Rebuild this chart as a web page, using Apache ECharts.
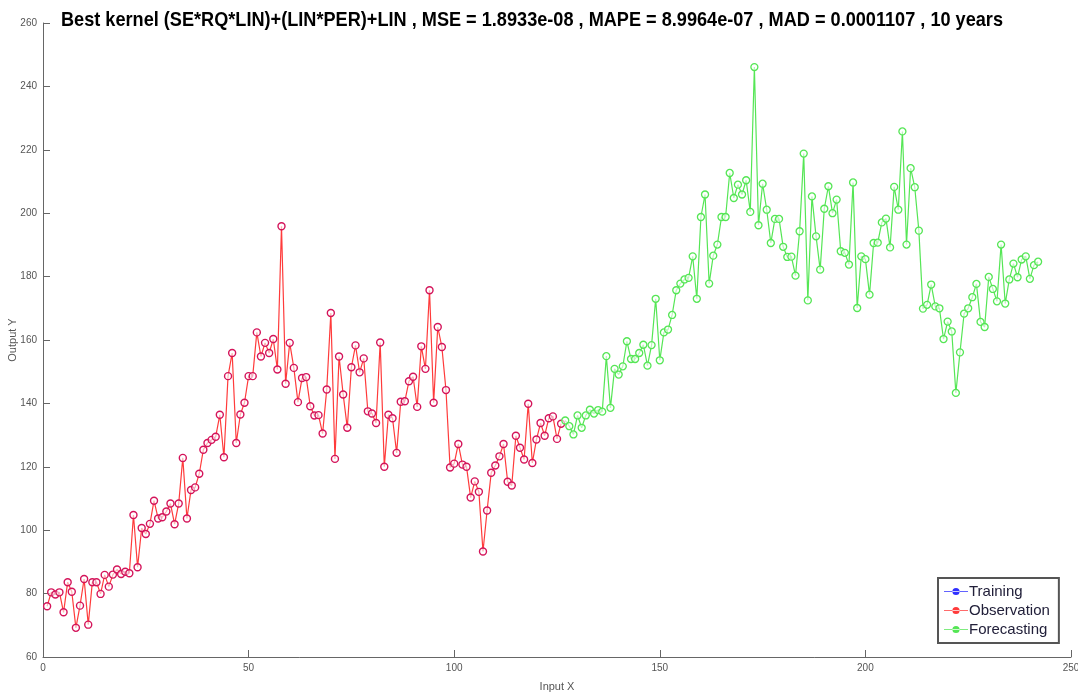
<!DOCTYPE html>
<html>
<head>
<meta charset="utf-8">
<script src="https://cdn.jsdelivr.net/npm/echarts@6/dist/echarts.min.js"></script>
<style>
  html, body { margin: 0; padding: 0; background: #fff; }
  #chart { width: 1078px; height: 693px; }
</style>
</head>
<body>
<div id="chart"></div>
<script>
// Kernel regression run: observed series and model forecast over 10 years
const titleText = 'Best kernel (SE*RQ*LIN)+(LIN*PER)+LIN , MSE = 1.8933e-08 , MAPE = 8.9964e-07 , MAD = 0.0001107 , 10 years';
const seriesNames = ['Training', 'Observation', 'Forecasting'];

const xTicks = [0, 50, 100, 150, 200, 250];
const yTicks = [60, 80, 100, 120, 140, 160, 180, 200, 220, 240, 260];

// Observation: input X = 1 .. 126
const obsStartX = 1;
const obsY = [
  76.0, 80.4, 79.7, 80.4, 74.1, 83.6, 80.6, 69.2, 76.2, 84.6,
  70.2, 83.6, 83.6, 79.9, 85.9, 82.2, 86.0, 87.6, 86.2, 86.9,
  86.4, 104.8, 88.3, 100.7, 98.8, 102.0, 109.3, 103.7, 104.1, 105.9,
  108.4, 101.9, 108.4, 122.8, 103.7, 112.7, 113.5, 117.8, 125.4, 127.5,
  128.5, 129.5, 136.4, 123.0, 148.6, 155.9, 127.5, 136.5, 140.2, 148.6,
  148.6, 162.4, 154.8, 159.1, 155.9, 160.3, 150.7, 195.9, 146.2, 159.1,
  151.2, 140.4, 148.0, 148.3, 139.1, 136.2, 136.3, 130.5, 144.4, 168.5,
  122.5, 154.8, 142.8, 132.3, 151.4, 158.3, 149.8, 154.2, 137.5, 136.8,
  133.8, 159.2, 120.0, 136.4, 135.3, 124.4, 140.5, 140.7, 147.0, 148.4,
  138.9, 158.0, 150.9, 175.7, 140.2, 164.1, 157.8, 144.2, 119.8, 121.0,
  127.2, 120.7, 120.0, 110.3, 115.4, 112.1, 93.3, 106.2, 118.1, 120.4,
  123.3, 127.2, 115.3, 114.1, 129.8, 126.0, 122.3, 139.9, 121.2, 128.6,
  133.8, 129.8, 135.3, 135.9, 128.8, 133.6
];

// Forecasting: input X = 127 .. 242
const fcStartX = 127;
const fcY = [
  134.6, 132.8, 130.2, 136.2, 132.3, 136.2, 138.0, 136.8, 137.9, 137.4,
  154.9, 138.6, 150.9, 149.1, 151.7, 159.6, 154.0, 154.0, 155.9, 158.5,
  151.9, 158.4, 173.0, 153.6, 162.4, 163.3, 167.9, 175.7, 177.8, 179.1,
  179.6, 186.4, 173.0, 198.8, 205.9, 177.8, 186.6, 190.1, 198.8, 198.8,
  212.7, 204.8, 209.0, 205.9, 210.4, 200.4, 246.1, 196.2, 209.3, 201.1,
  190.6, 198.2, 198.2, 189.4, 186.2, 186.3, 180.3, 194.3, 218.8, 172.5,
  205.3, 192.7, 182.2, 201.4, 208.5, 200.0, 204.3, 188.0, 187.5, 183.8,
  209.7, 170.1, 186.4, 185.5, 174.3, 190.6, 190.7, 197.1, 198.3, 189.2,
  208.3, 201.1, 225.8, 190.1, 214.2, 208.2, 194.5, 169.9, 171.1, 177.5,
  170.6, 170.0, 160.3, 165.8, 162.7, 143.3, 156.1, 168.3, 170.0, 173.5,
  177.7, 165.7, 164.1, 179.9, 176.1, 172.2, 190.1, 171.5, 179.1, 184.1,
  179.8, 185.4, 186.4, 179.3, 183.6, 184.7
];

const colors = { training: '#3030ff', obsLine: '#ff3b3b', obsMark: '#d4145a', fc: '#55e655' };
const legendColors = [colors.training, colors.obsLine, colors.fc];

function toPairs(startX, ys) {
  return ys.map((y, i) => [startX + i, y]);
}

const axisGray = '#666';
const labelFont = { color: '#555', fontSize: 10, fontFamily: 'Liberation Sans, Arial, sans-serif' };

// Title is drawn condensed: measure it and squeeze it into the wanted width
const titleFont = 'bold 21px "Liberation Sans", Arial, sans-serif';
const titleWidth = 942;
const measureCtx = document.createElement('canvas').getContext('2d');
measureCtx.font = titleFont;
const titleScaleX = titleWidth / measureCtx.measureText(titleText).width;

// legend icon: short line with a dot in the middle
const lineDotIcon = 'path://M0,9h40v1.6h-40z M14,10a6,6 0 1,0 12,0a6,6 0 1,0 -12,0z';

const chart = echarts.init(document.getElementById('chart'), null, { renderer: 'canvas' });
chart.setOption({
  animation: false,
  backgroundColor: '#fff',
  graphic: [{
    type: 'text',
    x: 532,
    y: 20,
    scaleX: titleScaleX,
    z: 10,
    style: {
      text: titleText,
      font: titleFont,
      fill: '#000',
      align: 'center',
      verticalAlign: 'middle'
    }
  }],
  grid: { left: 43, right: 7, top: 23, bottom: 36, containLabel: false, outerBoundsMode: 'none' },
  legend: {
    orient: 'vertical',
    left: 938,
    top: 578,
    padding: [6, 9, 6, 6],
    itemGap: 4,
    itemWidth: 24,
    itemHeight: 11,
    backgroundColor: '#fff',
    borderColor: '#555',
    borderWidth: 2,
    icon: lineDotIcon,
    textStyle: { fontFamily: 'Liberation Sans, Arial, sans-serif', fontSize: 15, color: '#22203a', padding: [0, 0, 0, -4] },
    data: seriesNames.map((name, i) => ({
      name: name,
      itemStyle: { color: legendColors[i], borderWidth: 0 }
    }))
  },
  xAxis: {
    type: 'value',
    min: xTicks[0],
    max: xTicks[xTicks.length - 1],
    interval: xTicks[1] - xTicks[0],
    name: 'Input X',
    nameLocation: 'middle',
    nameGap: 24,
    nameMoveOverlap: false,
    nameTextStyle: { color: '#555', fontSize: 11, fontFamily: 'Liberation Sans, Arial, sans-serif' },
    axisLine: { onZero: false, lineStyle: { color: axisGray, width: 1 } },
    axisTick: { inside: true, length: 7, lineStyle: { color: axisGray } },
    axisLabel: Object.assign({ margin: 6 }, labelFont),
    splitLine: { show: false }
  },
  yAxis: {
    type: 'value',
    min: yTicks[0],
    max: yTicks[yTicks.length - 1],
    interval: yTicks[1] - yTicks[0],
    name: 'Output Y',
    nameLocation: 'middle',
    nameGap: 25,
    nameMoveOverlap: false,
    nameTextStyle: { color: '#555', fontSize: 11, fontFamily: 'Liberation Sans, Arial, sans-serif' },
    axisLine: { show: true, onZero: false, lineStyle: { color: axisGray, width: 1 } },
    axisTick: { show: true, inside: true, length: 7, lineStyle: { color: axisGray } },
    axisLabel: Object.assign({ margin: 6 }, labelFont),
    splitLine: { show: false }
  },
  series: [
    {
      name: 'Training',
      type: 'line',
      data: [],
      color: colors.training,
      itemStyle: { color: colors.training },
      lineStyle: { color: colors.training }
    },
    {
      name: 'Observation',
      type: 'line',
      data: toPairs(obsStartX, obsY),
      symbol: 'circle',
      symbolSize: 7,
      showAllSymbol: true,
      color: colors.obsLine,
      lineStyle: { color: colors.obsLine, width: 1.2 },
      itemStyle: { color: 'rgba(255,255,255,0.6)', borderColor: colors.obsMark, borderWidth: 1.4 },
      emphasis: { disabled: true }
    },
    {
      name: 'Forecasting',
      type: 'line',
      data: toPairs(fcStartX, fcY),
      symbol: 'circle',
      symbolSize: 7,
      showAllSymbol: true,
      color: colors.fc,
      lineStyle: { color: colors.fc, width: 1.2 },
      itemStyle: { color: 'rgba(255,255,255,0.6)', borderColor: colors.fc, borderWidth: 1.3 },
      emphasis: { disabled: true }
    }
  ]
});
</script>
</body>
</html>
